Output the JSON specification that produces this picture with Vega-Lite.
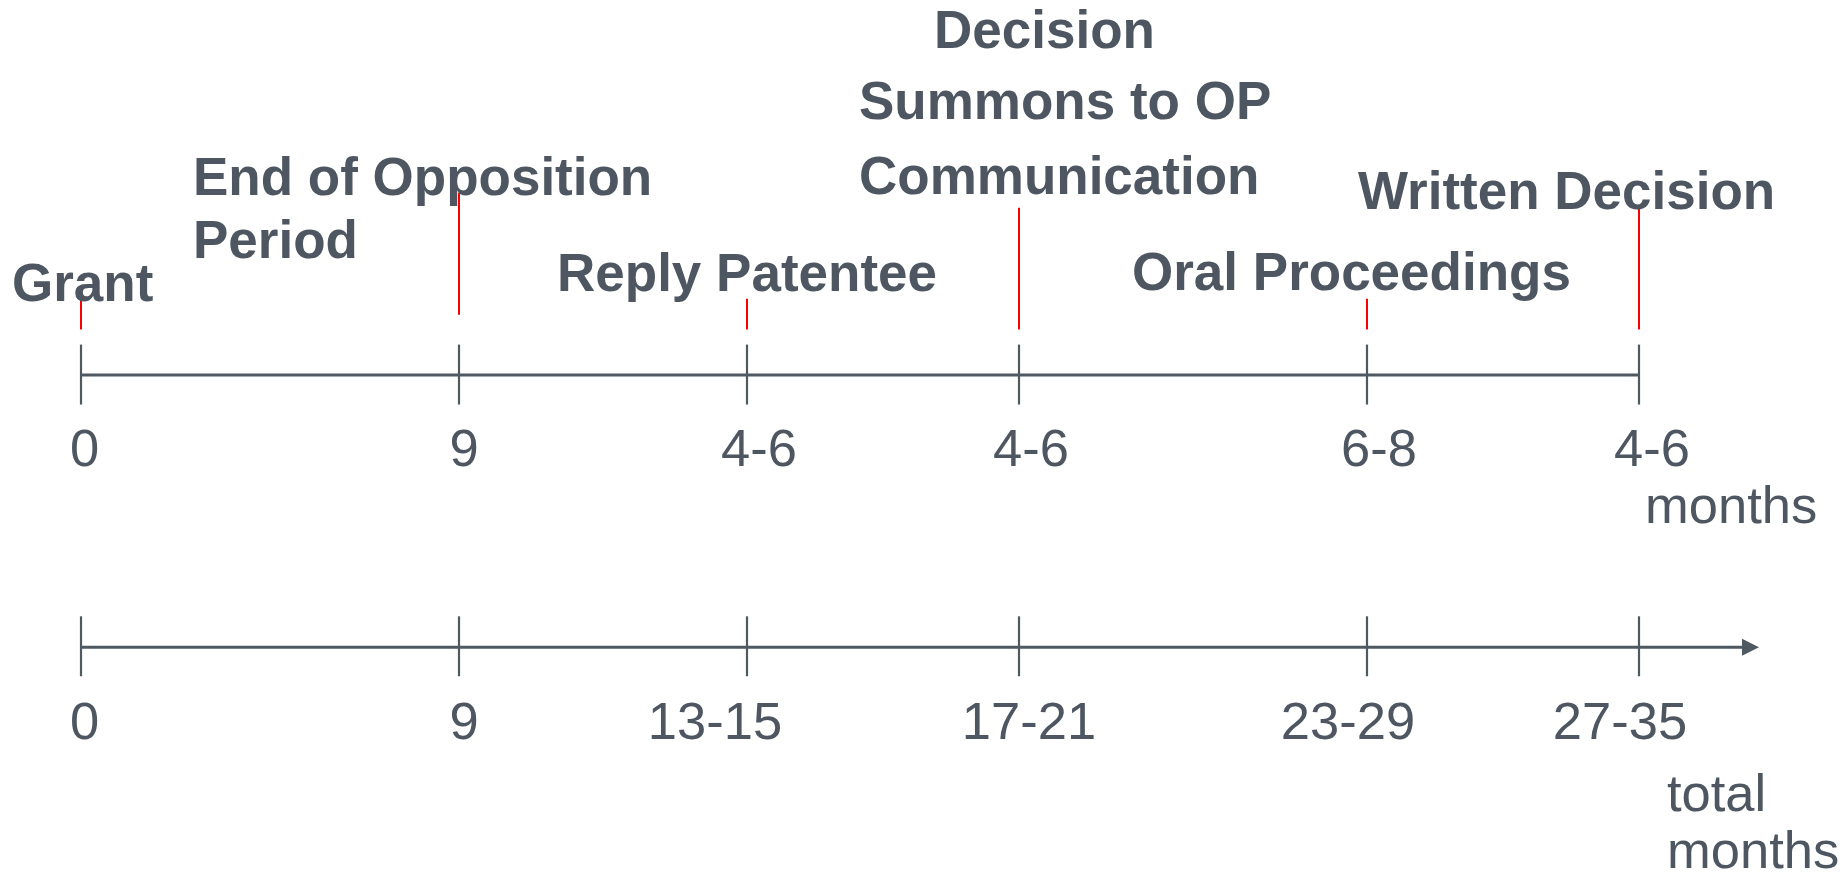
{
  "$schema": "https://vega.github.io/schema/vega-lite/v6.json",
  "width": 1848,
  "height": 879,
  "autosize": {"type": "fit", "contains": "padding"},
  "padding": 0,
  "background": "white",
  "config": {"view": {"stroke": null}},
  "layer": [
    {
      "data": {"values": [
        {"axis": "months", "x": 81, "x2": 1639, "y": 375.5},
        {"axis": "total months", "x": 81, "x2": 1746, "y": 648}
      ]},
      "mark": {"type": "rule", "color": "#4f5962", "strokeWidth": 3},
      "encoding": {
        "x": {"field": "x", "type": "quantitative", "scale": {"domain": [0, 1848], "nice": false, "zero": false}, "axis": null},
        "x2": {"field": "x2"},
        "y": {"field": "y", "type": "quantitative", "scale": {"domain": [0, 879], "nice": false, "zero": false, "reverse": true}, "axis": null}
      }
    },
    {
      "data": {"values": [
        {"x": 81, "y": 345, "y2": 405}, {"x": 459, "y": 345, "y2": 405}, {"x": 747, "y": 345, "y2": 405},
        {"x": 1019, "y": 345, "y2": 405}, {"x": 1367, "y": 345, "y2": 405}, {"x": 1639, "y": 345, "y2": 405},
        {"x": 81, "y": 617, "y2": 677}, {"x": 459, "y": 617, "y2": 677}, {"x": 747, "y": 617, "y2": 677},
        {"x": 1019, "y": 617, "y2": 677}, {"x": 1367, "y": 617, "y2": 677}, {"x": 1639, "y": 617, "y2": 677}
      ]},
      "mark": {"type": "rule", "color": "#4f5962", "strokeWidth": 2.2},
      "encoding": {
        "x": {"field": "x", "type": "quantitative", "scale": {"domain": [0, 1848], "nice": false, "zero": false}, "axis": null},
        "y": {"field": "y", "type": "quantitative", "scale": {"domain": [0, 879], "nice": false, "zero": false, "reverse": true}, "axis": null},
        "y2": {"field": "y2"}
      }
    },
    {
      "data": {"values": [
        {"event": "Grant", "x": 81, "y": 299, "y2": 330},
        {"event": "End of Opposition Period", "x": 459, "y": 193, "y2": 315},
        {"event": "Reply Patentee", "x": 747, "y": 299, "y2": 330},
        {"event": "Communication", "x": 1019, "y": 208, "y2": 330},
        {"event": "Oral Proceedings", "x": 1367, "y": 299, "y2": 330},
        {"event": "Written Decision", "x": 1639, "y": 208, "y2": 330}
      ]},
      "mark": {"type": "rule", "color": "#ff0000", "strokeWidth": 2},
      "encoding": {
        "x": {"field": "x", "type": "quantitative", "scale": {"domain": [0, 1848], "nice": false, "zero": false}, "axis": null},
        "y": {"field": "y", "type": "quantitative", "scale": {"domain": [0, 879], "nice": false, "zero": false, "reverse": true}, "axis": null},
        "y2": {"field": "y2"}
      }
    },
    {
      "data": {"values": [{"x": 1750.5, "y": 648}]},
      "mark": {"type": "point", "shape": "M-1,-1L1,0L-1,1Z", "size": 289, "filled": true, "color": "#4f5962", "opacity": 1},
      "encoding": {
        "x": {"field": "x", "type": "quantitative", "scale": {"domain": [0, 1848], "nice": false, "zero": false}, "axis": null},
        "y": {"field": "y", "type": "quantitative", "scale": {"domain": [0, 879], "nice": false, "zero": false, "reverse": true}, "axis": null}
      }
    },
    {
      "data": {"values": [
        {"label": "0", "x": 84.5, "y": 467},
        {"label": "9", "x": 464, "y": 467},
        {"label": "4-6", "x": 759, "y": 467},
        {"label": "4-6", "x": 1031, "y": 467},
        {"label": "6-8", "x": 1379, "y": 467},
        {"label": "4-6", "x": 1652, "y": 467},
        {"label": "0", "x": 84.5, "y": 740},
        {"label": "9", "x": 464, "y": 740},
        {"label": "13-15", "x": 715, "y": 740},
        {"label": "17-21", "x": 1029, "y": 740},
        {"label": "23-29", "x": 1348, "y": 740},
        {"label": "27-35", "x": 1620, "y": 740}
      ]},
      "mark": {"type": "text", "align": "center", "baseline": "alphabetic", "font": "Liberation Sans", "fontSize": 52.5, "color": "#4e5761"},
      "encoding": {
        "x": {"field": "x", "type": "quantitative", "scale": {"domain": [0, 1848], "nice": false, "zero": false}, "axis": null},
        "y": {"field": "y", "type": "quantitative", "scale": {"domain": [0, 879], "nice": false, "zero": false, "reverse": true}, "axis": null},
        "text": {"field": "label"}
      }
    },
    {
      "data": {"values": [
        {"label": "months", "x": 1645, "y": 524},
        {"label": "total", "x": 1667, "y": 812},
        {"label": "months", "x": 1667, "y": 869}
      ]},
      "mark": {"type": "text", "align": "left", "baseline": "alphabetic", "font": "Liberation Sans", "fontSize": 52.5, "color": "#4e5761"},
      "encoding": {
        "x": {"field": "x", "type": "quantitative", "scale": {"domain": [0, 1848], "nice": false, "zero": false}, "axis": null},
        "y": {"field": "y", "type": "quantitative", "scale": {"domain": [0, 879], "nice": false, "zero": false, "reverse": true}, "axis": null},
        "text": {"field": "label"}
      }
    },
    {
      "data": {"values": [
        {"label": "Grant", "x": 12, "y": 301},
        {"label": "End of Opposition", "x": 193, "y": 195},
        {"label": "Period", "x": 193, "y": 258},
        {"label": "Reply Patentee", "x": 557, "y": 291},
        {"label": "Decision", "x": 934, "y": 48},
        {"label": "Summons to OP", "x": 859, "y": 119},
        {"label": "Communication", "x": 859, "y": 194},
        {"label": "Written Decision", "x": 1358, "y": 209},
        {"label": "Oral Proceedings", "x": 1132, "y": 290}
      ]},
      "mark": {"type": "text", "align": "left", "baseline": "alphabetic", "font": "Liberation Sans", "fontWeight": "bold", "fontSize": 53, "color": "#4e5761"},
      "encoding": {
        "x": {"field": "x", "type": "quantitative", "scale": {"domain": [0, 1848], "nice": false, "zero": false}, "axis": null},
        "y": {"field": "y", "type": "quantitative", "scale": {"domain": [0, 879], "nice": false, "zero": false, "reverse": true}, "axis": null},
        "text": {"field": "label"}
      }
    }
  ]
}
